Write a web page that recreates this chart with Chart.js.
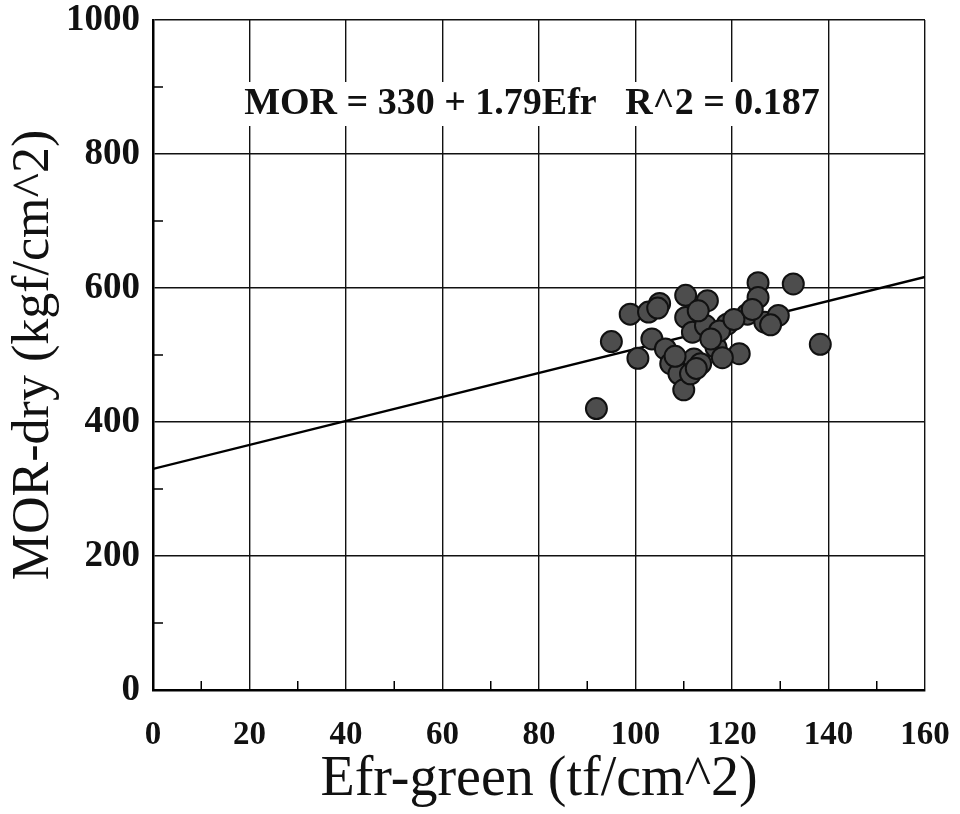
<!DOCTYPE html>
<html>
<head>
<meta charset="utf-8">
<script src="https://cdn.jsdelivr.net/npm/chart.js@4.4.1/dist/chart.umd.min.js"></script>
<style>
  html, body { margin: 0; padding: 0; background: #fff; }
  #wrap { width: 960px; height: 814px; }
</style>
</head>
<body>
<div id="wrap"><canvas id="morChart"></canvas></div>
<script>
// Efr-green (tf/cm^2) and MOR-dry (kgf/cm^2) for each specimen
const efrGreen = [91.9, 95.0, 98.9, 102.7, 105.0, 100.5, 103.4, 106.2, 107.3, 109.0,
                  110.0, 112.1, 113.5, 111.4, 110.4, 114.9, 110.4, 111.8, 114.5, 116.7,
                  121.5, 119.0, 123.2, 125.4, 125.4, 126.8, 129.6, 132.7, 138.3, 118.0,
                  117.4, 112.6, 108.2, 115.6, 120.4, 124.2, 113.0, 128.0, 104.6];
const morDry   = [420, 520, 561, 564, 577, 495, 524, 509, 487, 472,
                  448, 494, 487, 472, 589, 581, 556, 534, 544, 511,
                  502, 546, 561, 608, 586, 549, 559, 606, 516, 496,
                  536, 480, 498, 524, 553, 568, 566, 545, 570];

// regression: MOR = 330 + 1.79 Efr
const fitIntercept = 330;
const fitSlope = 1.79;
const fitR2 = 0.187;

const xTickValues = [0, 20, 40, 60, 80, 100, 120, 140, 160];
const yTickValues = [0, 200, 400, 600, 800, 1000];
const xMinorTicks = [10, 30, 50, 70, 90, 110, 130, 150];
const yMinorTicks = [100, 300, 500, 700, 900];

const points = efrGreen.map((x, i) => ({ x: x, y: morDry[i] }));
const fitLine = [0, 160].map(x => ({ x: x, y: fitIntercept + fitSlope * x }));

// small inward ticks between the grid lines
const minorTicks = {
  id: 'minorTicks',
  afterDatasetsDraw(chart) {
    const { ctx, chartArea, scales } = chart;
    ctx.save();
    ctx.strokeStyle = '#000';
    ctx.lineWidth = 1.5;
    ctx.beginPath();
    xMinorTicks.forEach(v => {
      const px = scales.x.getPixelForValue(v);
      ctx.moveTo(px, chartArea.bottom);
      ctx.lineTo(px, chartArea.bottom - 9);
    });
    yMinorTicks.forEach(v => {
      const py = scales.y.getPixelForValue(v);
      ctx.moveTo(chartArea.left, py);
      ctx.lineTo(chartArea.left + 10, py);
    });
    ctx.stroke();
    ctx.restore();
  }
};

// equation text on a white box over the grid
const equationLabel = {
  id: 'equationLabel',
  beforeDatasetsDraw(chart) {
    const { ctx, chartArea } = chart;
    const text = 'MOR = ' + fitIntercept + ' + ' + fitSlope + 'Efr   R^2 = ' + fitR2;
    ctx.save();
    ctx.font = 'bold 38px "Liberation Serif"';
    const w = ctx.measureText(text).width;
    const cx = chartArea.left + 379;
    const base = chartArea.top + 94;
    ctx.fillStyle = '#fff';
    ctx.fillRect(cx - w / 2 - 4, base - 32, w + 8, 44);
    ctx.fillStyle = '#111';
    ctx.textAlign = 'center';
    ctx.textBaseline = 'alphabetic';
    ctx.fillText(text, cx, base);
    ctx.restore();
  }
};

new Chart(document.getElementById('morChart'), {
  type: 'scatter',
  data: {
    datasets: [
      {
        label: 'MOR-dry',
        data: points,
        backgroundColor: '#4d4d4d',
        borderColor: '#111',
        borderWidth: 2,
        pointRadius: 10.5,
        order: 1
      },
      {
        type: 'line',
        label: 'fit',
        data: fitLine,
        borderColor: '#000',
        borderWidth: 2.4,
        pointRadius: 0,
        fill: false,
        order: 2
      }
    ]
  },
  options: {
    responsive: true,
    maintainAspectRatio: false,
    animation: false,
    layout: { padding: { top: 20, right: 35, left: 0, bottom: 0 } },
    plugins: {
      legend: { display: false },
      tooltip: { enabled: false }
    },
    scales: {
      x: {
        type: 'linear',
        min: 0,
        max: 160,
        afterBuildTicks: s => { s.ticks = xTickValues.map(v => ({ value: v })); },
        afterFit: s => { s.height = 124; s.paddingLeft = 0; s.paddingRight = 0; },
        grid: { color: '#111', lineWidth: 1.4, drawTicks: false },
        border: { color: '#000', width: 2.5 },
        ticks: {
          padding: 26,
          color: '#111',
          maxRotation: 0,
          callback: v => String(v),
          font: { family: 'Liberation Serif', size: 33, weight: 'bold' }
        },
        title: {
          display: true,
          text: 'Efr-green (tf/cm^2)',
          color: '#111',
          padding: { top: 0, bottom: 0 },
          font: { family: 'Liberation Serif', size: 56 }
        }
      },
      y: {
        type: 'linear',
        min: 0,
        max: 1000,
        afterBuildTicks: s => { s.ticks = yTickValues.map(v => ({ value: v })); },
        afterFit: s => { s.width = 153; s.paddingTop = 0; s.paddingBottom = 0; },
        grid: { color: '#111', lineWidth: 1.4, drawTicks: false },
        border: { color: '#000', width: 2.5 },
        ticks: {
          padding: 13,
          color: '#111',
          callback: v => String(v),
          font: { family: 'Liberation Serif', size: 37, weight: 'bold' }
        },
        title: {
          display: true,
          text: 'MOR-dry (kgf/cm^2)',
          color: '#111',
          padding: { top: 3, bottom: 0 },
          font: { family: 'Liberation Serif', size: 52 }
        }
      }
    }
  },
  plugins: [equationLabel, minorTicks]
});
</script>
</body>
</html>
